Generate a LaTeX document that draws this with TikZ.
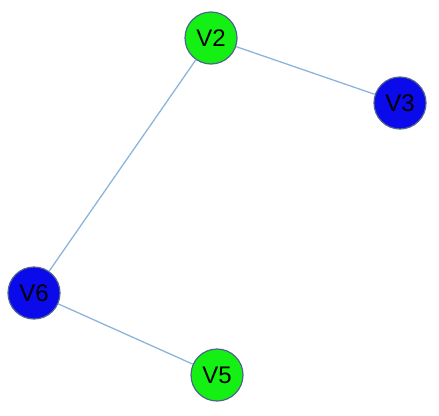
\documentclass[tikz,border=0pt]{standalone}
\usepackage{fontspec}
\setmainfont{Liberation Sans}
\definecolor{vgreen}{RGB}{20,240,20}
\definecolor{vblue}{RGB}{10,10,235}
\definecolor{vrim}{RGB}{80,100,140}
\definecolor{vedge}{RGB}{140,180,220}

\begin{document}
\begin{tikzpicture}[x=1pt,y=-1pt,
  vertex/.style={circle,draw=vrim,line width=1.2pt,minimum size=52pt,inner sep=0pt,
    font=\fontsize{24}{26}\selectfont},
  greenv/.style={vertex,fill=vgreen},
  bluev/.style={vertex,fill=vblue}]
\useasboundingbox (0,0) rectangle (439,415);
\node[greenv] (v2) at (211,38) {V2};
\node[bluev] (v3) at (400,103) {V3};
\node[bluev] (v6) at (34,293) {V6};
\node[greenv] (v5) at (217,375) {V5};

\path[draw=vedge,line width=1.3pt]
	(v2)	edge	(v3)
		edge	(v6)
	(v6)	edge	(v5);
\end{tikzpicture}
\end{document}
